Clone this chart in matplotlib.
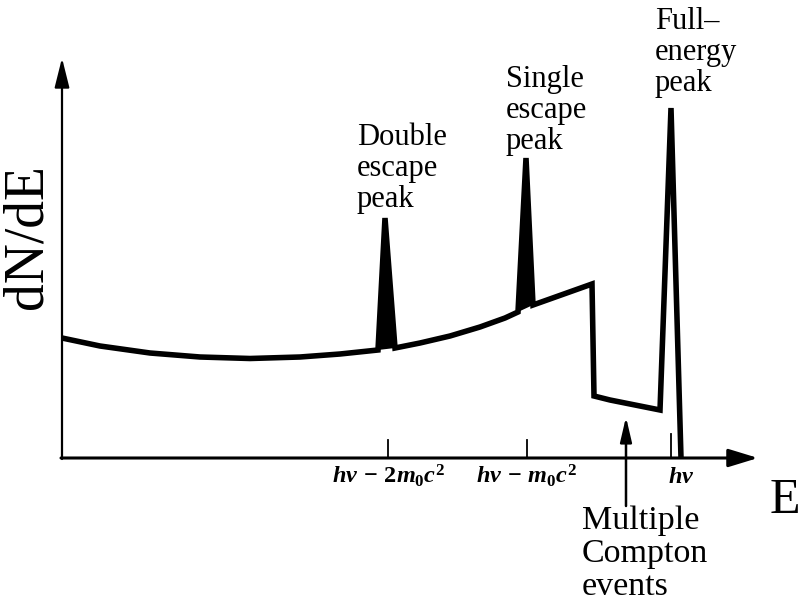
import matplotlib
matplotlib.use("Agg")
import matplotlib.pyplot as plt

plt.rcParams['font.family'] = ['Liberation Serif', 'DejaVu Serif']
plt.rcParams['mathtext.fontset'] = 'custom'
plt.rcParams['mathtext.it'] = 'Liberation Serif:italic:bold'
plt.rcParams['mathtext.rm'] = 'Liberation Serif:bold'
plt.rcParams['mathtext.bf'] = 'Liberation Serif:bold'

# Schematic gamma-ray spectrum (arbitrary units: energy E, counts dN/dE)
energy = [0, 38, 88, 138, 188, 238, 278, 316, 323, 333, 358, 388, 418, 443, 456,
          464, 471, 530, 532, 548, 568, 598, 609, 619]
counts = [120, 112, 105, 101, 99.5, 101, 104, 108, 240, 110, 115, 122, 131, 140, 146,
          300, 153, 174, 62, 58, 54, 48, 350, 0]

# indices of the two escape peaks (left base, apex, right base)
peak_index = [(7, 8, 9), (14, 15, 16)]

# Underlying line positions (small ticks on the E axis)
line_energy = [326, 465, 609]
line_height = [18, 18, 24]

# Tick labels on the energy axis
tick_pos = [327, 465, 619]
tick_labels = [r'$hv\,-\,2m_0c^2$', r'$hv\,-\,m_0c^2$', r'$hv$']

# Peak annotations
peak_labels = ['Double\nescape\npeak', 'Single\nescape\npeak', 'Full\u2013\nenergy\npeak']
peak_label_pos = [(295, 335), (444, 393), (593, 451)]

compton_arrow_energy = 564
x_max, y_max = 696, 400

fig = plt.figure(figsize=(8.01, 6.12), dpi=100)
ax = fig.add_axes([0, 0, 1, 1])
ax.set_xlim(-62, 739)
ax.set_ylim(-154, 458)
ax.axis('off')

# Axes with arrows
ax.annotate('', xy=(0, y_max), xytext=(0, -1),
            arrowprops=dict(arrowstyle='-|>,head_length=1.8,head_width=0.45',
                            lw=1.6, color='black', mutation_scale=10,
                            shrinkA=0, shrinkB=0))
ax.annotate('', xy=(x_max, 0), xytext=(-1, 0),
            arrowprops=dict(arrowstyle='-|>,head_length=1.8,head_width=0.55',
                            lw=2.2, color='black', mutation_scale=10,
                            shrinkA=0, shrinkB=0))

# Spectrum curve
ax.plot(energy, counts, color='black', lw=4.0, solid_joinstyle='miter',
        solid_capstyle='butt')
for idx in peak_index:
    ax.fill([energy[i] for i in idx], [counts[i] for i in idx], color='black', lw=0)

# small line ticks
for e, h in zip(line_energy, line_height):
    ax.plot([e, e], [0, h], color='black', lw=1.3)

# energy labels
for p, lab in zip(tick_pos, tick_labels):
    ax.text(p, -25, lab, ha='center', va='baseline', fontsize=17.5)

# peak labels
for (px, py), lab in zip(peak_label_pos, peak_labels):
    ax.text(px, py, lab, ha='left', va='top', fontsize=22, linespacing=1.1)

# Multiple Compton arrow
ax.annotate('', xy=(compton_arrow_energy, 41), xytext=(compton_arrow_energy, -48),
            arrowprops=dict(arrowstyle='-|>,head_length=1.5,head_width=0.35',
                            lw=1.8, color='black', mutation_scale=10,
                            shrinkA=0, shrinkB=0))
ax.text(520, -48, 'Multiple\nCompton\nevents', ha='left', va='top',
        fontsize=24.5, linespacing=1.1)

# axis labels
ax.text(-34, 221, 'dN/dE', rotation=90, ha='center', va='center', fontsize=40)
ax.text(708, -55, 'E', ha='left', va='baseline', fontsize=36)

fig.savefig('out.png', dpi=100)
